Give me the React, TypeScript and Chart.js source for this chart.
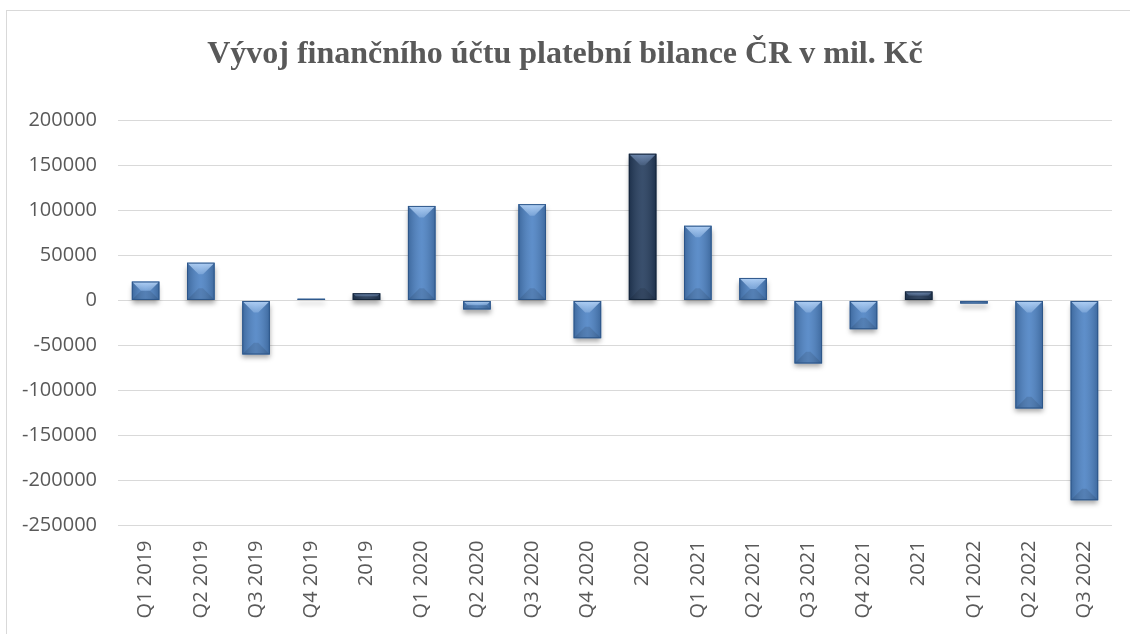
import React, { useEffect, useRef } from "react";
import { Chart, registerables } from "chart.js";

Chart.register(...registerables);

const categories = [
  "Q1 2019", "Q2 2019", "Q3 2019", "Q4 2019", "2019",
  "Q1 2020", "Q2 2020", "Q3 2020", "Q4 2020", "2020",
  "Q1 2021", "Q2 2021", "Q3 2021", "Q4 2021", "2021",
  "Q1 2022", "Q2 2022", "Q3 2022",
];

const values = [
  21000, 42000, -60000, 2000, 8000,
  105000, -10000, 107000, -42000, 163000,
  83000, 25000, -70000, -32000, 10000,
  -3500, -120000, -222000,
];

const yMin = -250000;
const yMax = 200000;
const yStep = 50000;

const titleText = "Vývoj finančního účtu platební bilance ČR v mil. Kč";

const LIGHT = "#4C82C4";
const LIGHT_BORDER = "#2D5689";
const DARK = "#233B5C";
const DARK_BORDER = "#14243A";

const isAnnual = categories.map((c) => !c.startsWith("Q"));

const bevelPlugin = {
  id: "bevel",
  beforeDatasetsDraw(chart: any) {
    const ctx = chart.ctx;
    ctx.save();
    ctx.shadowColor = "rgba(0,0,0,0.35)";
    ctx.shadowBlur = 5;
    ctx.shadowOffsetY = 4;
  },
  afterDatasetsDraw(chart: any) {
    const ctx = chart.ctx;
    ctx.restore();
    const meta = chart.getDatasetMeta(0);
    meta.data.forEach((bar: any, i: number) => {
      const p = bar.getProps(["x", "y", "base", "width"], true);
      const left = p.x - p.width / 2;
      const right = p.x + p.width / 2;
      const top = Math.min(p.y, p.base);
      const bottom = Math.max(p.y, p.base);
      const w = right - left;
      const h = bottom - top;
      if (h < 0.5) return;
      ctx.save();
      ctx.beginPath();
      ctx.rect(left, top, w, h);
      ctx.clip();
      const g = ctx.createLinearGradient(left, 0, right, 0);
      g.addColorStop(0, "rgba(0,0,0,0.20)");
      g.addColorStop(0.5, "rgba(255,255,255,0.10)");
      g.addColorStop(1, "rgba(0,0,0,0.20)");
      ctx.fillStyle = g;
      ctx.fillRect(left, top, w, h);
      const d = Math.min(w * 0.42, h / 2);
      const tg = ctx.createLinearGradient(0, top, 0, top + d);
      tg.addColorStop(0, isAnnual[i] ? "rgba(150,180,225,0.6)" : "rgba(185,215,250,0.9)");
      tg.addColorStop(1, isAnnual[i] ? "rgba(150,180,225,0.15)" : "rgba(185,215,250,0.3)");
      ctx.fillStyle = tg;
      ctx.beginPath();
      ctx.moveTo(left, top);
      ctx.lineTo(right, top);
      ctx.lineTo(right - d, top + d);
      ctx.lineTo(left + d, top + d);
      ctx.closePath();
      ctx.fill();
      ctx.fillStyle = "rgba(0,0,0,0.10)";
      ctx.beginPath();
      ctx.moveTo(left, bottom);
      ctx.lineTo(right, bottom);
      ctx.lineTo(right - d, bottom - d);
      ctx.lineTo(left + d, bottom - d);
      ctx.closePath();
      ctx.fill();
      ctx.restore();
      ctx.save();
      ctx.strokeStyle = isAnnual[i] ? DARK_BORDER : LIGHT_BORDER;
      ctx.lineWidth = 1;
      ctx.strokeRect(left + 0.5, top + 0.5, w - 1, h - 1);
      ctx.restore();
    });
  },
};

export default function App() {
  const canvasRef = useRef<HTMLCanvasElement | null>(null);

  useEffect(() => {
    if (!canvasRef.current) return;
    const chart = new Chart(canvasRef.current, {
      type: "bar",
      data: {
        labels: categories,
        datasets: [
          {
            data: values,
            backgroundColor: categories.map((_, i) => (isAnnual[i] ? DARK : LIGHT)),
            borderWidth: 0,
            categoryPercentage: 1,
            barPercentage: 0.5,
          },
        ],
      },
      options: {
        animation: false,
        responsive: false,
        maintainAspectRatio: false,
        layout: { padding: { left: 18, right: 18, top: 0, bottom: 0 } },
        plugins: {
          legend: { display: false },
          tooltip: { enabled: false },
          title: {
            display: true,
            text: titleText,
            color: "#595959",
            font: { family: "'Liberation Serif', serif", size: 32, weight: "bold", lineHeight: 1.2 },
            padding: { top: 36, bottom: 46 },
          },
        },
        scales: {
          x: {
            grid: { display: false, drawTicks: false },
            border: { display: false },
            ticks: {
              color: "#595959",
              font: { family: "'Open Sans', sans-serif", size: 20 },
              maxRotation: 90,
              minRotation: 90,
              padding: 15,
              autoSkip: false,
            },
            afterFit(scale: any) {
              scale.height = 108.5;
            },
          },
          y: {
            min: yMin,
            max: yMax,
            grid: { color: "#d9d9d9", lineWidth: 1, drawTicks: false },
            border: { display: false },
            ticks: {
              stepSize: yStep,
              color: "#595959",
              font: { family: "'Open Sans', sans-serif", size: 20 },
              padding: 21,
              callback: (v: any) => String(v),
            },
            afterFit(scale: any) {
              scale.width = 100;
            },
          },
        },
      },
      plugins: [bevelPlugin],
    });
    return () => chart.destroy();
  }, []);

  return (
    <div style={{ position: "absolute", left: 0, top: 0, width: 1130, height: 634, overflow: "hidden", background: "#fff" }}>
      <div
        style={{
          position: "absolute",
          left: 6,
          top: 10,
          width: 1140,
          height: 650,
          border: "1.5px solid #d9d9d9",
          boxSizing: "border-box",
        }}
      />
      <canvas ref={canvasRef} width={1130} height={634} style={{ position: "absolute", left: 0, top: 0 }} />
    </div>
  );
}
